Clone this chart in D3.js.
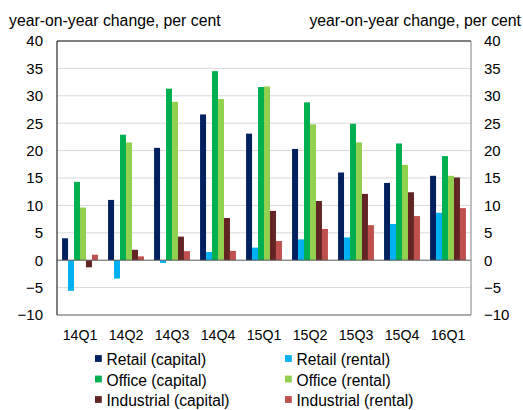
<!DOCTYPE html>
<html>
<head>
<meta charset="utf-8">
<script src="https://cdn.jsdelivr.net/npm/d3@7"></script>
<style>
  html, body { margin: 0; padding: 0; background: #fff; }
  svg { display: block; font-family: "Liberation Sans", Arial, sans-serif; }
</style>
</head>
<body>
<svg id="chart" width="523" height="410"></svg>
<script>
const categories = ["14Q1","14Q2","14Q3","14Q4","15Q1","15Q2","15Q3","15Q4","16Q1"];
const seriesNames = ["Retail (capital)","Retail (rental)","Office (capital)","Office (rental)","Industrial (capital)","Industrial (rental)"];
const retailCapital     = [4.0, 11.0, 20.5, 26.6, 23.1, 20.3, 16.0, 14.1, 15.4];
const retailRental      = [-5.6, -3.35, -0.5, 1.5, 2.3, 3.8, 4.15, 6.6, 8.65];
const officeCapital     = [14.3, 22.9, 31.3, 34.5, 31.6, 28.8, 24.9, 21.3, 19.0];
const officeRental      = [9.6, 21.5, 28.9, 29.4, 31.7, 24.8, 21.5, 17.4, 15.4];
const industrialCapital = [-1.3, 1.9, 4.3, 7.7, 9.0, 10.8, 12.1, 12.4, 15.1];
const industrialRental  = [1.0, 0.7, 1.65, 1.7, 3.5, 5.7, 6.4, 8.05, 9.5];
const yTicks = [-10, -5, 0, 5, 10, 15, 20, 25, 30, 35, 40];
const axisTitle = "year-on-year change, per cent";

const seriesValues = [retailCapital, retailRental, officeCapital, officeRental, industrialCapital, industrialRental];
const colors = ["#002060", "#00b0f0", "#00b050", "#92d050", "#632523", "#c0504d"];

const svg = d3.select("#chart");
const pL = 57, pR = 471, pT = 41, pB = 315;

const x = d3.scaleBand().domain(categories).range([pL, pR]).paddingInner(0.22).paddingOuter(0.11);
const xs = d3.scaleBand().domain(d3.range(seriesNames.length)).range([0, x.bandwidth()]);
const y = d3.scaleLinear().domain([-10, 40]).range([pB, pT]);

// gridlines
svg.append("g").selectAll("line").data(yTicks.filter(t => t !== -10 && t !== 40 && t !== 0)).join("line")
  .attr("x1", pL).attr("x2", pR)
  .attr("y1", d => y(d)).attr("y2", d => y(d))
  .attr("stroke", "#d9d9d9").attr("stroke-width", 1);

// bars
const groups = svg.append("g").selectAll("g").data(categories).join("g")
  .attr("transform", d => `translate(${x(d)},0)`);
groups.selectAll("rect").data((c, i) => seriesValues.map((s, k) => ({k, v: s[i]}))).join("rect")
  .attr("x", d => xs(d.k))
  .attr("width", xs.bandwidth())
  .attr("y", d => y(Math.max(0, d.v)))
  .attr("height", d => Math.abs(y(d.v) - y(0)))
  .attr("fill", d => colors[d.k]);

// zero line
svg.append("line").attr("x1", pL).attr("x2", pR).attr("y1", y(0)).attr("y2", y(0))
  .attr("stroke", "#595959").attr("stroke-width", 1);

// frame
svg.append("line").attr("x1", pL).attr("x2", pR).attr("y1", pT).attr("y2", pT).attr("stroke", "#000");
svg.append("line").attr("x1", pL).attr("x2", pL).attr("y1", pT).attr("y2", pB).attr("stroke", "#000");
svg.append("line").attr("x1", pR).attr("x2", pR).attr("y1", pT).attr("y2", pB).attr("stroke", "#808080");
svg.append("line").attr("x1", pL).attr("x2", pR).attr("y1", pB).attr("y2", pB).attr("stroke", "#595959");

// axes
const yl = svg.append("g").attr("transform", `translate(${pL - 14},0)`)
  .call(d3.axisLeft(y).tickValues(yTicks).tickSize(0).tickPadding(0));
const yr = svg.append("g").attr("transform", `translate(${pR + 13},0)`)
  .call(d3.axisRight(y).tickValues(yTicks).tickSize(0).tickPadding(0));
const xa = svg.append("g").attr("transform", `translate(0,${pB + 15})`)
  .call(d3.axisBottom(x).tickSize(0).tickPadding(0));
[yl, yr].forEach(g => {
  g.select(".domain").remove();
  g.selectAll("text").attr("font-size", 15).attr("fill", "#000").attr("font-family", "Liberation Sans, Arial, sans-serif");
});
xa.select(".domain").remove();
xa.selectAll("text").attr("font-size", 14.2).attr("fill", "#000").attr("font-family", "Liberation Sans, Arial, sans-serif");

// axis titles
const tfs = 15.8;
svg.append("text").attr("x", 9).attr("y", 25.5).attr("font-size", tfs).text(axisTitle);
svg.append("text").attr("x", 521).attr("y", 25.5).attr("text-anchor", "end").attr("font-size", tfs).text(axisTitle);

// legend
const legX = [95, 285];
const legY = [358.5, 379, 399.5];
const leg = svg.append("g").selectAll("g").data(seriesNames).join("g")
  .attr("transform", (d, i) => `translate(${legX[i % 2]},${legY[Math.floor(i / 2)]})`);
leg.append("rect").attr("x", 0).attr("y", -3.4).attr("width", 6.8).attr("height", 6.8).attr("fill", (d, i) => colors[i]);
leg.append("text").attr("x", 11.5).attr("y", 6.5).attr("font-size", 15.6).text(d => d);
</script>
</body>
</html>
